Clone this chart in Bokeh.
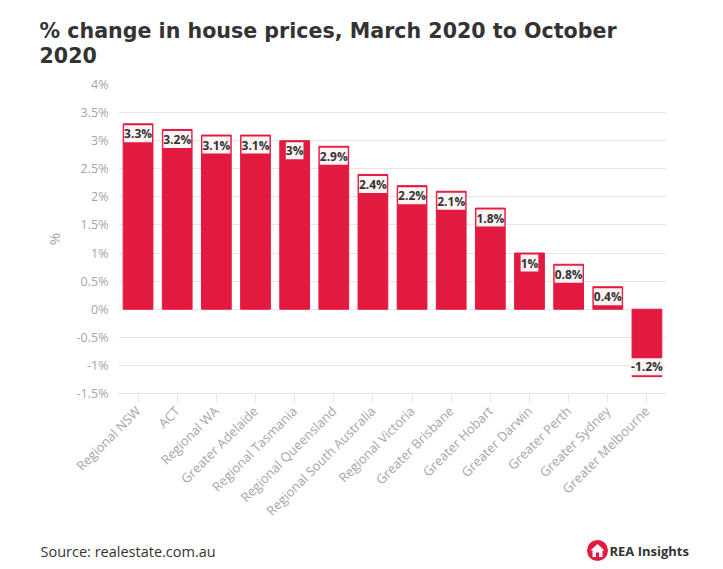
import math
from bokeh.plotting import figure
from bokeh.models import ColumnDataSource, FixedTicker, Range1d, FactorRange
from bokeh.layouts import column
from bokeh.embed import file_html
from bokeh.resources import INLINE
from bokeh.core.properties import value

# ---- data ----
regions = ["Regional NSW", "ACT", "Regional WA", "Greater Adelaide", "Regional Tasmania",
           "Regional Queensland", "Regional South Australia", "Regional Victoria",
           "Greater Brisbane", "Greater Hobart", "Greater Darwin", "Greater Perth",
           "Greater Sydney", "Greater Melbourne"]
change = [3.3, 3.2, 3.1, 3.1, 3.0, 2.9, 2.4, 2.2, 2.1, 1.8, 1.0, 0.8, 0.4, -1.2]
y_ticks = [-1.5, -1, -0.5, 0, 0.5, 1, 1.5, 2, 2.5, 3, 3.5, 4]
y_tick_labels = ["-1.5%", "-1%", "-0.5%", "0%", "0.5%", "1%", "1.5%", "2%", "2.5%", "3%", "3.5%", "4%"]
title_text = "% change in house prices, March 2020 to October\n2020"
source_text = "Source: realestate.com.au"
brand_text = "REA Insights"

RED = "#E31A3F"
FONT = "Open Sans"
GREY = "#A6A6A6"
DARK = "#333333"

src = ColumnDataSource(dict(
    region=regions,
    change=change,
    label=[f"{v:g}%" for v in change],
    yoff=[10 if v >= 0 else -10 for v in change],
))

p = figure(width=707, height=528, x_range=FactorRange(factors=regions),
           y_range=Range1d(-1.5, 4), output_backend="svg", toolbar_location=None,
           min_border_left=118, min_border_right=41, min_border_top=84,
           min_border_bottom=135)
p.frame_align = False
p.outline_line_color = None
p.background_fill_color = "white"
p.border_fill_color = "white"

p.title.text = title_text
p.title.text_font = "DejaVu Sans"
p.title.text_font_size = "20.6px"
p.title.text_font_style = "bold"
p.title.text_line_height = 1.05
p.title.text_color = DARK
p.title.align = "left"
p.title.offset = -79
p.title.standoff = 32

p.vbar(x="region", top="change", bottom=0, width=0.76, color=RED, source=src)
p.text(x="region", y="change", text="label", y_offset="yoff", source=src,
       text_align="center", text_baseline="middle", text_font=value(FONT),
       text_font_style="bold", text_font_size="12px", text_color=DARK,
       background_fill_color="white", background_fill_alpha=0.95, padding=0)

# y axis
p.yaxis.ticker = FixedTicker(ticks=y_ticks)
p.yaxis.major_label_overrides = {t: l for t, l in zip(y_ticks, y_tick_labels)}
p.yaxis.axis_line_color = None
p.yaxis.major_tick_line_color = None
p.yaxis.minor_tick_line_color = None
p.yaxis.major_label_text_color = GREY
p.yaxis.major_label_text_font = FONT
p.yaxis.major_label_text_font_size = "12.5px"
p.yaxis.major_label_standoff = 4
p.yaxis.axis_label = "%"
p.yaxis.axis_label_text_color = GREY
p.yaxis.axis_label_text_font = FONT
p.yaxis.axis_label_text_font_size = "15px"
p.yaxis.axis_label_text_font_style = "normal"
p.yaxis.axis_label_standoff = 10
p.ygrid.grid_line_color = "#E6E6E6"
p.xgrid.grid_line_color = None

# x axis
p.xaxis.major_label_orientation = math.pi / 4
p.xaxis.axis_line_color = "#E6E6E6"
p.xaxis.major_tick_line_color = "#E6E6E6"
p.xaxis.major_tick_out = 9
p.xaxis.major_tick_in = 0
p.xaxis.major_label_text_color = GREY
p.xaxis.major_label_text_font = FONT
p.xaxis.major_label_text_font_size = "13px"
p.xaxis.major_label_standoff = 6

# footer
f = figure(width=707, height=33, x_range=Range1d(0, 707), y_range=Range1d(0, 33),
           output_backend="svg", toolbar_location=None, min_border=0)
f.frame_align = False
f.axis.visible = False
f.grid.visible = False
f.outline_line_color = None
f.text(x=[40], y=[10], text=[source_text], text_font=value(FONT), text_font_size="14.5px",
       text_color=DARK, text_baseline="middle", text_align="left")
f.scatter(x=[597], y=[11], size=21, color=RED, line_color=None)
f.patch(x=[590, 597, 604, 602, 602, 592, 592], y=[11, 17.5, 11, 11, 4.5, 4.5, 11],
        color="white", line_color=None)
f.quad(left=[595.5], right=[598.5], bottom=[4.5], top=[9], color=RED, line_color=None)
f.text(x=[609], y=[11], text=[brand_text], text_font=value(FONT), text_font_size="13px",
       text_font_style="bold", text_color=DARK, text_baseline="middle", text_align="left")

layout = column(p, f, spacing=0)
open("out.html", "w").write(file_html(layout, INLINE))
